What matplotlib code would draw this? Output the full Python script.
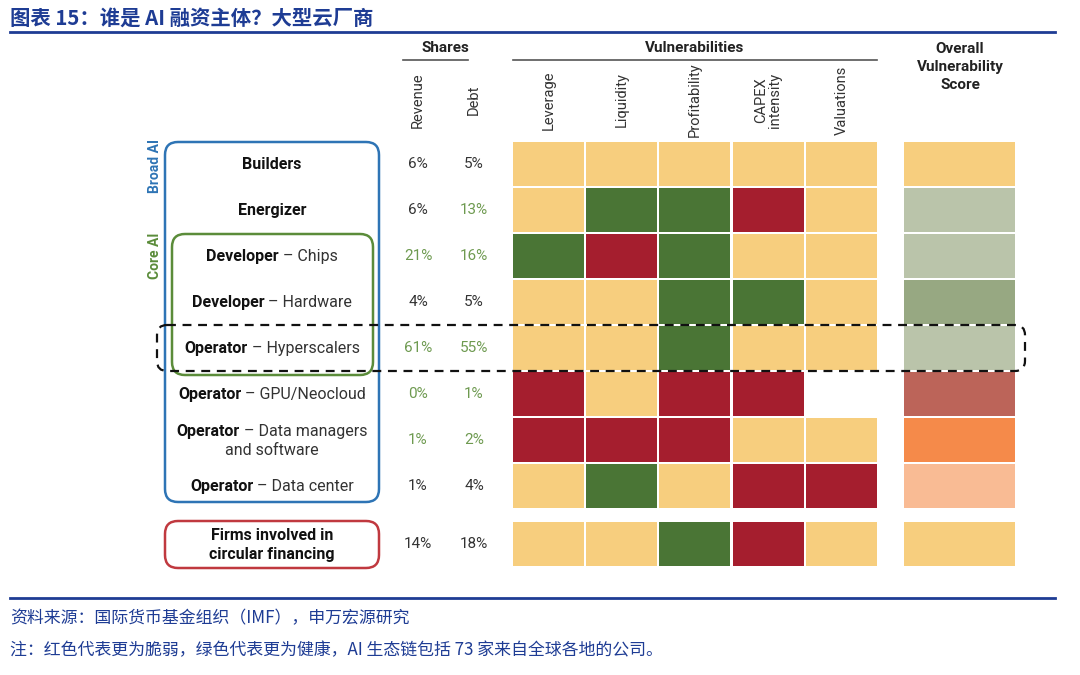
import matplotlib
matplotlib.use("Agg")
import matplotlib.pyplot as plt
from matplotlib.patches import Rectangle, FancyBboxPatch
from matplotlib import font_manager

# ---------------- data ----------------
bold_parts = ["Builders", "Energizer", "Developer", "Developer", "Operator",
              "Operator", "Operator", "Operator", "Firms involved in"]
normal_parts = ["", "", " – Chips", " – Hardware", " – Hyperscalers",
                " – GPU/Neocloud", " – Data managers", " – Data center", ""]
second_lines = ["", "", "", "", "", "", "and software", "", "circular financing"]
second_bold = [False, False, False, False, False, False, False, False, True]

revenue_share = [6, 6, 21, 4, 61, 0, 1, 1, 14]
debt_share = [5, 13, 16, 5, 55, 1, 2, 4, 18]
revenue_green = [False, False, True, False, True, True, True, False, False]
debt_green = [False, True, True, False, True, True, True, False, False]

share_labels = ["Revenue", "Debt"]
vuln_labels = ["Leverage", "Liquidity", "Profitability", "CAPEX\nintensity", "Valuations"]

# Y = neutral (yellow), G = healthier (green), R = more fragile (red), '' = no data
vuln_matrix = [
    ["Y", "Y", "Y", "Y", "Y"],
    ["Y", "G", "G", "R", "Y"],
    ["G", "R", "G", "Y", "Y"],
    ["Y", "Y", "G", "G", "Y"],
    ["Y", "Y", "G", "Y", "Y"],
    ["R", "Y", "R", "R", ""],
    ["R", "R", "R", "Y", "Y"],
    ["Y", "G", "Y", "R", "R"],
    ["Y", "Y", "G", "R", "Y"],
]
overall_score = ["neutral", "light_green", "light_green", "mid_green", "light_green",
                 "muted_red", "orange", "light_orange", "neutral"]

title = "图表 15：谁是 AI 融资主体？大型云厂商"
source = "资料来源：国际货币基金组织（IMF），申万宏源研究"
note = "注：红色代表更为脆弱，绿色代表更为健康，AI 生态链包括 73 家来自全球各地的公司。"

# ---------------- styles ----------------
cell_colors = {"Y": "#F7CE7E", "G": "#4A7535", "R": "#A51E2E", "": "white"}
overall_colors = {"neutral": "#F7CE7E", "light_green": "#BAC4AA", "mid_green": "#97A882",
                  "muted_red": "#BC6459", "orange": "#F58A4A", "light_orange": "#F9BB94"}
BLUE = "#2E74B5"
GREEN = "#5B8C3A"
RED = "#C0393F"
TXT = "#333333"
PCT_GREEN = "#6E9A50"
NAVY = "#1E3C94"

avail = {f.name for f in font_manager.fontManager.ttflist}
latin = [f for f in ["Liberation Sans Narrow", "Roboto", "Liberation Sans"] if f in avail] + ["DejaVu Sans"]
plt.rcParams["font.family"] = latin
CJK = ["Noto Sans CJK SC", "DejaVu Sans"]

fig = plt.figure(figsize=(10.8, 6.75), dpi=100)
ax = fig.add_axes([0, 0, 1, 1])
ax.set_xlim(0, 1080)
ax.set_ylim(675, 0)
ax.axis("off")

# title & rules
ax.text(10, 18, title, fontsize=14.7, fontweight="bold", color=NAVY, family=CJK, va="center", ha="left")
ax.plot([10, 1055], [32, 32], color=NAVY, lw=2)
ax.plot([10, 1055], [598, 598], color=NAVY, lw=2)
ax.text(10, 618, source, fontsize=12.2, color=NAVY, family=CJK, va="center", ha="left")
ax.text(10, 650, note, fontsize=12.2, color=NAVY, family=CJK, va="center", ha="left")

# geometry
row_tops = [142 + i * 46 for i in range(8)] + [522]
row_h = 43.5
col_x = [513 + j * 73.2 for j in range(5)]
col_w = 71
ov_x, ov_w = 904, 111
share_x = [418, 474]

# headers
ax.text(445, 48, "Shares", fontsize=11, fontweight="bold", color="#222222", ha="center", va="center")
ax.plot([403, 468], [60, 60], color="#555555", lw=1.2)
ax.text(695, 48, "Vulnerabilities", fontsize=11, fontweight="bold", color="#222222", ha="center", va="center")
ax.plot([513, 877], [60, 60], color="#555555", lw=1.2)
ax.text(960, 67, "Overall\nVulnerability\nScore", fontsize=11, fontweight="bold", color="#222222",
        ha="center", va="center", linespacing=1.4)
for lbl, x in zip(share_labels, share_x):
    ax.text(x, 100, lbl, rotation=90, fontsize=10.5, color=TXT, ha="center", va="center")
for j, lbl in enumerate(vuln_labels):
    ax.text(col_x[j] + col_w / 2, 100, lbl, rotation=90, fontsize=10.5, color=TXT,
            ha="center", va="center", multialignment="center", linespacing=1.0)

# cells
for i, row in enumerate(vuln_matrix):
    for j, code in enumerate(row):
        if code:
            ax.add_patch(Rectangle((col_x[j], row_tops[i]), col_w, row_h, facecolor=cell_colors[code], edgecolor="none"))
    ax.add_patch(Rectangle((ov_x, row_tops[i]), ov_w, row_h, facecolor=overall_colors[overall_score[i]], edgecolor="none"))

# shares
for i in range(len(revenue_share)):
    yc = row_tops[i] + row_h / 2
    ax.text(share_x[0], yc, f"{revenue_share[i]}%", fontsize=11, ha="center", va="center",
            color=PCT_GREEN if revenue_green[i] else TXT)
    ax.text(share_x[1], yc, f"{debt_share[i]}%", fontsize=11, ha="center", va="center",
            color=PCT_GREEN if debt_green[i] else TXT)

# row labels (bold + normal parts centered together)
fig.canvas.draw()
renderer = fig.canvas.get_renderer()
label_cx = 272
inv = ax.transData.inverted()


def width_data(t):
    bb = t.get_window_extent(renderer)
    p0 = inv.transform((bb.x0, bb.y0))
    p1 = inv.transform((bb.x1, bb.y0))
    return p1[0] - p0[0]


for i in range(len(bold_parts)):
    yc = row_tops[i] + row_h / 2 + 1
    if second_lines[i]:
        y1, y2 = yc - 9.5, yc + 9.5
    else:
        y1 = yc
    tb = ax.text(0, y1, bold_parts[i], fontsize=11.5, fontweight="bold", color="#111111", ha="left", va="center")
    tn = ax.text(0, y1, normal_parts[i], fontsize=11.5, color=TXT, ha="left", va="center")
    wb = width_data(tb)
    wn = width_data(tn) if normal_parts[i] else 0
    x0 = label_cx - (wb + wn) / 2
    tb.set_x(x0)
    tn.set_x(x0 + wb)
    if second_lines[i]:
        ax.text(label_cx, y2, second_lines[i], fontsize=11.5,
                fontweight="bold" if second_bold[i] else "normal",
                color="#111111" if second_bold[i] else TXT, ha="center", va="center")

# group boxes
ax.add_patch(FancyBboxPatch((165, 142), 214, 360, boxstyle="round,pad=0,rounding_size=13",
                            facecolor="none", edgecolor=BLUE, lw=1.8))
ax.add_patch(FancyBboxPatch((172, 234), 201, 141, boxstyle="round,pad=0,rounding_size=13",
                            facecolor="none", edgecolor=GREEN, lw=1.8))
ax.add_patch(FancyBboxPatch((165, 521), 214, 47, boxstyle="round,pad=0,rounding_size=13",
                            facecolor="none", edgecolor=RED, lw=1.8))
ax.add_patch(FancyBboxPatch((157, 325), 868, 46, boxstyle="round,pad=0,rounding_size=10",
                            facecolor="none", edgecolor="#111111", lw=1.6, linestyle=(0, (4, 3))))

ax.text(155, 166, "Broad AI", rotation=90, fontsize=10, fontweight="bold", color=BLUE, ha="center", va="center")
ax.text(155, 256, "Core AI", rotation=90, fontsize=10, fontweight="bold", color=GREEN, ha="center", va="center")

fig.savefig("out.png", dpi=100, facecolor="white")
